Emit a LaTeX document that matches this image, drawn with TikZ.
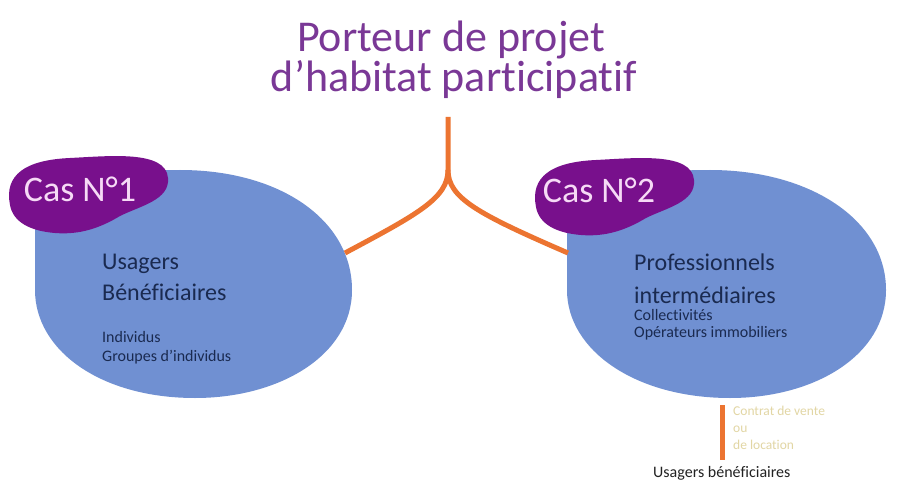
\documentclass[tikz,border=0pt]{standalone}
\usepackage{fontspec}
\setmainfont{Carlito}[Ligatures=NoCommon]
\definecolor{blobblue}{HTML}{7090D2}
\definecolor{caspurple}{HTML}{78108C}
\definecolor{castext}{HTML}{F6DAF6}
\definecolor{titlepurple}{HTML}{7A3896}
\definecolor{forkorange}{HTML}{EC7431}
\definecolor{navytext}{HTML}{1A2A50}
\definecolor{tantext}{HTML}{E2D6A4}
\definecolor{darktext}{HTML}{222222}
\tikzset{
  blobshape/.style={fill=blobblue, draw=none},
  casshape/.style={fill=caspurple, draw=none},
  forkline/.style={draw=forkorange, line width=5pt, line cap=butt},
  titletext/.style={anchor=base, text=titlepurple, font=\fontsize{44}{48}\selectfont, inner sep=0pt},
  castxt/.style={anchor=base, text=castext, font=\fontsize{36}{40}\selectfont, inner sep=0pt},
  bigtxt/.style={anchor=base west, text=navytext, font=\fontsize{24}{28}\selectfont, inner sep=0pt},
  smalltxt/.style={anchor=base west, text=navytext, font=\fontsize{16}{19}\selectfont, inner sep=0pt},
  tantxt/.style={anchor=base west, text=tantext, font=\fontsize{13.5}{16}\selectfont, inner sep=0pt},
  bottomtxt/.style={anchor=base west, text=darktext, font=\fontsize{16}{19}\selectfont, inner sep=0pt}
}
\begin{document}
\begin{tikzpicture}[x=1pt,y=-1pt]
\useasboundingbox (0,0) rectangle (900,500);
\fill[white] (0,0) rectangle (900,500);

% title
\node[titletext] (title1) at (451,52) {Porteur de projet};
\node[titletext] (title2) at (454,92) {d’habitat participatif};

% blue blobs
\path[blobshape] (35,230) .. controls (35,180) and (110,170) .. (180,170)
  .. controls (280,170) and (352,220) .. (352,290)
  .. controls (352,355) and (280,398) .. (195,398)
  .. controls (100,398) and (35,350) .. (35,290) -- cycle;
\path[blobshape] (567,230) .. controls (567,180) and (640,170) .. (710,170)
  .. controls (810,170) and (886,220) .. (886,290)
  .. controls (886,355) and (815,398) .. (730,398)
  .. controls (635,398) and (567,350) .. (567,290) -- cycle;

% purple blobs
\foreach \dx/\dy in {0/0, 526/2} {
  \path[casshape, shift={(\dx,\dy)}] (10,205)
    .. controls (4,175) and (25,160) .. (70,158)
    .. controls (110,156) and (166,150) .. (168,178)
    .. controls (170,200) and (140,206) .. (120,216)
    .. controls (100,228) and (80,235) .. (55,233)
    .. controls (30,231) and (13,222) .. (10,205) -- cycle;
}
\node[castxt] (cas1) at (80,201) {Cas N°1};
\node[castxt] (cas2) at (599,203) {Cas N°2};

% fork
\coordinate (forktop) at (448,117);
\coordinate (split) at (448,170);
\coordinate (lend) at (345,253);
\coordinate (rend) at (568,253);
\draw[forkline] (forktop) -- (split) .. controls (448,198) and (418,214) .. (lend);
\draw[forkline] (split) .. controls (448,198) and (478,214) .. (rend);

% left blob text
\node[bigtxt] (usagers) at (102,269) {Usagers};
\node[bigtxt] (benef) at (102,300) {Bénéficiaires};
\node[smalltxt] (indiv) at (102,342) {Individus};
\node[smalltxt] (groupes) at (102,361) {Groupes d’individus};

% right blob text
\node[bigtxt] (prof) at (634,270) {Professionnels};
\node[bigtxt] (interm) at (634,303) {intermédiaires};
\node[smalltxt] (coll) at (634,320) {Collectivités};
\node[smalltxt] (oper) at (634,337) {Opérateurs immobiliers};

% bottom
\coordinate (ctop) at (722,405);
\coordinate (cbot) at (722,460);
\draw[forkline] (ctop) -- (cbot);
\node[tantxt] (contrat) at (733,415) {Contrat de vente};
\node[tantxt] (ou) at (733,432) {ou};
\node[tantxt] (loc) at (733,449) {de location};
\node[bottomtxt] (usben) at (653,477) {Usagers bénéficiaires};
\end{tikzpicture}
\end{document}
